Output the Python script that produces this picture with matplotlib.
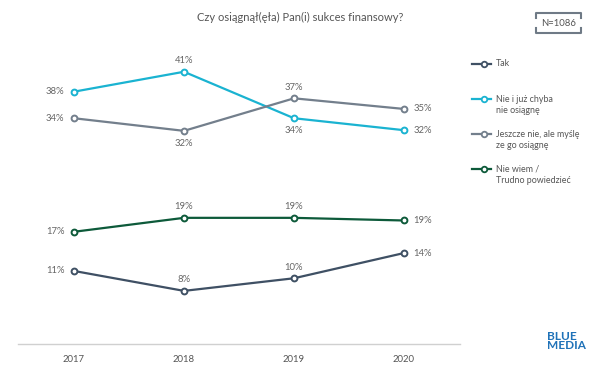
import matplotlib.pyplot as plt
from matplotlib.lines import Line2D
import numpy as np

plt.rcParams['font.family'] = ['Lato', 'DejaVu Sans']

years = ['2017', '2018', '2019', '2020']
tak = [11.0, 8.0, 9.9, 13.7]
nie_juz = [38.0, 41.0, 34.0, 32.2]
jeszcze = [34.0, 32.1, 37.0, 35.4]
nie_wiem = [16.9, 19.0, 19.0, 18.6]

names = ['Tak', 'Nie i już chyba\nnie osiągnę', 'Jeszcze nie, ale myślę\nze go osiągnę',
         'Nie wiem /\nTrudno powiedzieć']
colors = ['#3f5064', '#1ab3d1', '#737f8c', '#0d5a3a']
series = [tak, nie_juz, jeszcze, nie_wiem]
# label placement for the two middle years: 'a' above, 'b' below
mid_pos = [['a', 'a'], ['a', 'b'], ['b', 'a'], ['a', 'a']]

W, H = 602, 365
fig = plt.figure(figsize=(W / 100, H / 100), dpi=100)
ax = fig.add_axes([18 / W, 21 / H, 442 / W, 45 * 6.64 / H])
x = np.arange(len(years))
ax.set_xlim((18 - 74) / 110, (460 - 74) / 110)
ax.set_ylim(0, 45)

txtc = '#666666'
fs = 6.8
for vals, c, pos in zip(series, colors, mid_pos):
    ax.plot(x, vals, color=c, lw=1.6, marker='o', ms=4.2, mfc='white', mec=c, mew=1.4, zorder=3)
    ax.annotate('%d%%' % round(vals[0]), (x[0], vals[0]), xytext=(-7, 0), textcoords='offset points',
                ha='right', va='center', fontsize=fs, color=txtc)
    ax.annotate('%d%%' % round(vals[3]), (x[3], vals[3]), xytext=(7, 0), textcoords='offset points',
                ha='left', va='center', fontsize=fs, color=txtc)
    for i, p in zip([1, 2], pos):
        off = 8 if p == 'a' else -9
        ax.annotate('%d%%' % round(vals[i]), (x[i], vals[i]), xytext=(0, off), textcoords='offset points',
                    ha='center', va='center', fontsize=fs, color=txtc)

for s in ['top', 'right', 'left']:
    ax.spines[s].set_visible(False)
ax.spines['bottom'].set_color('#d0d0d0')
ax.spines['bottom'].set_linewidth(1.0)
ax.set_yticks([])
ax.set_xticks(x)
ax.set_xticklabels(years, fontsize=fs, color='#555555')
ax.tick_params(axis='x', length=0, pad=8)

fig.text(300 / W, 1 - 17 / H, 'Czy osiągnął(ęła) Pan(i) sukces finansowy?', ha='center', va='center',
         fontsize=8, color='#555555')

# legend
leg_y = [64, 99, 134, 169]
for name, c, ly in zip(names, colors, leg_y):
    yy = 1 - ly / H
    fig.add_artist(Line2D([472 / W, 491 / W], [yy, yy], color=c, lw=1.6))
    fig.add_artist(Line2D([484 / W], [yy], color=c, marker='o', ms=4, mfc='white', mec=c, mew=1.3))
    fig.text(496 / W, yy + 4.5 / H, name, ha='left', va='top', fontsize=6.4, color='#555555',
             linespacing=1.35)

# N box
bc = '#6f7a86'
x0, x1, y0, y1 = 536 / W, 581 / W, 1 - 13 / H, 1 - 33 / H
fig.add_artist(Line2D([x0, x0, x1, x1], [y0 - 5 / H, y0, y0, y0 - 5 / H], color=bc, lw=1.5))
fig.add_artist(Line2D([x0, x0, x1, x1], [y1 + 5 / H, y1, y1, y1 + 5 / H], color=bc, lw=1.5))
fig.text((x0 + x1) / 2, (y0 + y1) / 2, 'N=1086', ha='center', va='center', fontsize=6.8, color='#555555')

fig.text(547 / W, 1 - 341 / H, 'BLUE\nMEDIA', ha='left', va='center', fontsize=8.5, fontweight='bold',
         color='#1f72b8', linespacing=0.85)

fig.savefig('out.png', dpi=100)
